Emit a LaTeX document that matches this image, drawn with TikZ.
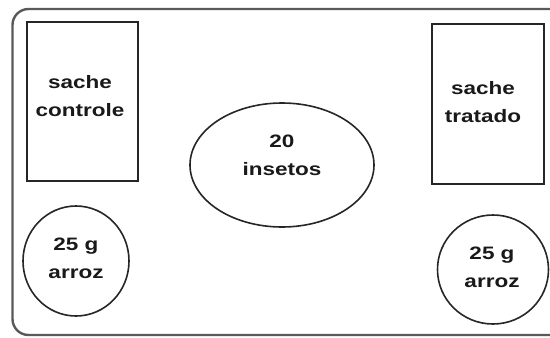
\documentclass[tikz,border=0pt]{standalone}
\usepackage{fontspec}
\setmainfont{Liberation Sans}[FakeStretch=1.25]
\usetikzlibrary{shapes.geometric}
\begin{document}
\begin{tikzpicture}[x=1pt,y=-1pt,
  shp/.style={draw=black!85, line width=1.6pt, inner sep=0pt},
  lbl/.style={align=center, font=\fontsize{18}{28}\selectfont\bfseries, inner sep=0pt, text=black!90}]
\useasboundingbox (0,0) rectangle (550,338);
\begin{scope}
\clip (0,0) rectangle (550,338);
\draw[draw=black!65, line width=2.4pt, rounded corners=16pt] (12.5,9) rectangle (580,335);
\end{scope}
\node[shp, rectangle, minimum width=111pt, minimum height=159pt] (sc) at (82.5,101.5) {};
\node[lbl] (sct) at (80,96) {sache\\controle};
\node[shp, rectangle, minimum width=112pt, minimum height=160pt] (st) at (488,104) {};
\node[lbl] (stt) at (483,102) {sache\\tratado};
\node[shp, ellipse, minimum width=184pt, minimum height=124pt] (ins) at (282,165) {};
\node[lbl] (inst) at (282,155) {20\\insetos};
\node[shp, ellipse, minimum width=106pt, minimum height=110pt] (ac) at (76,261) {};
\node[lbl] (act) at (76,258) {25 g\\arroz};
\node[shp, ellipse, minimum width=111pt, minimum height=109pt] (at) at (493,269.5) {};
\node[lbl] (att) at (492,267) {25 g\\arroz};
\end{tikzpicture}
\end{document}
